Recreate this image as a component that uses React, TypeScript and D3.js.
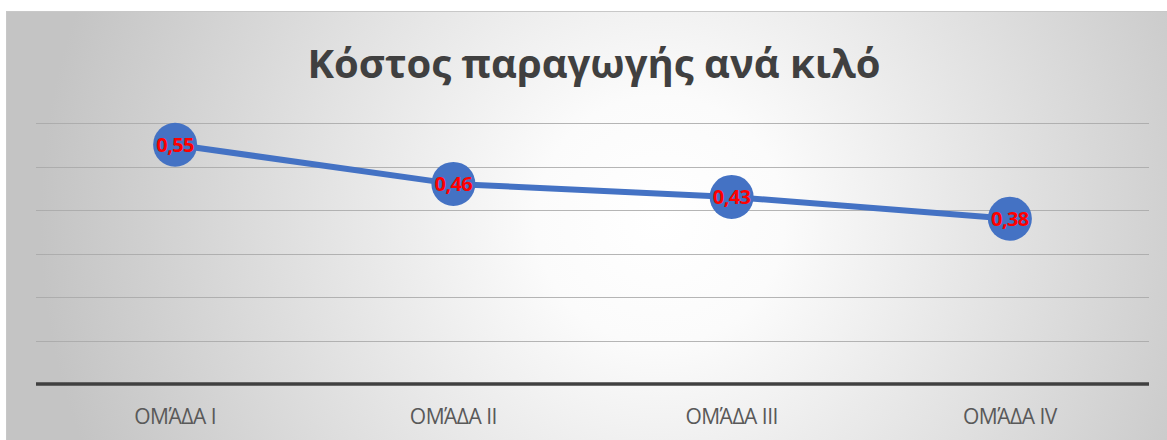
import React from 'react'
import * as d3 from 'd3'

const categories = ['ΟΜΆΔΑ Ι', 'ΟΜΆΔΑ ΙΙ', 'ΟΜΆΔΑ ΙΙΙ', 'ΟΜΆΔΑ IV']
const costs = [0.55, 0.46, 0.43, 0.38]
const gridTicks = [0.1, 0.2, 0.3, 0.4, 0.5, 0.6]
const title = 'Κόστος παραγωγής ανά κιλό'

const width = 1167
const height = 440

export default function App() {
  const left = 36
  const right = 1149
  const top = 123
  const bottom = 384

  const x = d3.scaleBand<string>().domain(categories).range([left, right])
  const y = d3.scaleLinear().domain([0, 0.6]).range([bottom, top])

  const fmt = d3.formatLocale({ decimal: ',', thousands: '.', grouping: [3], currency: ['', '€'] }).format('.2f')

  const line = d3
    .line<number>()
    .x((_, i) => x(categories[i])! + x.bandwidth() / 2)
    .y((d) => y(d))

  return (
    <svg
      width={width}
      height={height}
      style={{ position: 'absolute', left: 0, top: 0, background: '#fff' }}
    >
      <defs>
        <radialGradient id="bg" gradientUnits="userSpaceOnUse" cx={660} cy={220} r={620}>
          <stop offset="0" stopColor="#ffffff" />
          <stop offset="0.2" stopColor="#fbfbfb" />
          <stop offset="1" stopColor="#c4c4c4" />
        </radialGradient>
      </defs>
      <rect x={6.5} y={11.5} width={1180} height={460} fill="url(#bg)" stroke="#c8c8c8" />

      <text
        x={594}
        y={78}
        textAnchor="middle"
        fontFamily="'Open Sans', sans-serif"
        fontWeight="bold"
        fontSize={40}
        fill="#404040"
      >
        {title}
      </text>

      {gridTicks.map((t) => (
        <line
          key={t}
          x1={left}
          x2={right}
          y1={Math.round(y(t)) + 0.5}
          y2={Math.round(y(t)) + 0.5}
          stroke="#a8a8a8"
          strokeOpacity={0.85}
          strokeWidth={1.2}
        />
      ))}
      <line x1={left} x2={right} y1={y(0)} y2={y(0)} stroke="#404040" strokeWidth={3.5} />

      <path d={line(costs) ?? ''} fill="none" stroke="#4472C4" strokeWidth={6} strokeLinejoin="round" />

      {costs.map((c, i) => {
        const cx = x(categories[i])! + x.bandwidth() / 2
        return (
          <g key={i}>
            <circle cx={cx} cy={y(c)} r={22} fill="#4472C4" />
            <text
              x={cx}
              y={y(c)}
              dy="0.36em"
              textAnchor="middle"
              fontFamily="'Open Sans', sans-serif"
              fontWeight="bold"
              fontSize={20}
              letterSpacing={-0.6}
              fill="#ff0000"
            >
              {fmt(c)}
            </text>
          </g>
        )
      })}

      {categories.map((c) => (
        <text
          key={c}
          x={x(c)! + x.bandwidth() / 2}
          y={424}
          textAnchor="middle"
          fontFamily="'Open Sans', sans-serif"
          fontSize={21}
          letterSpacing={-0.5}
          fill="#595959"
        >
          {c}
        </text>
      ))}
    </svg>
  )
}
